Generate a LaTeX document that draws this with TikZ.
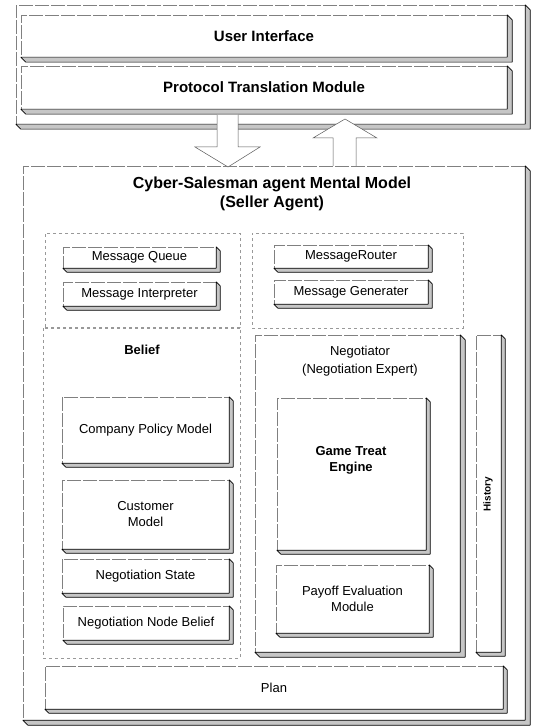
\documentclass[tikz,border=0pt]{standalone}
\usepackage{fontspec}
\setmainfont{Liberation Sans}
\usepackage{tikz}
\usetikzlibrary{calc}
\newcommand{\boxshadow}[2][4]{%
  \filldraw[fill=gray!45, draw=black, line width=0.6pt, line join=round]
    (#2.north east) -- ++(#1,#1) -- ($(#2.south east)+(#1,#1)$)
    -- ($(#2.south west)+(#1,#1)$) -- (#2.south west) -- (#2.south east) -- cycle;}
\tikzset{
  face/.style={draw=black!50, dash pattern=on 14pt off 2pt, fill=white, inner sep=0pt,
    align=center, font=\fontsize{13}{16}\selectfont},
  frame/.style={draw=black!40, dash pattern=on 3pt off 3pt, inner sep=0pt},
  blockarrow/.style={draw=black!65, fill=white, line width=0.5pt}
}
\begin{document}
\begin{tikzpicture}[x=1pt,y=-1pt]
\useasboundingbox (0,0) rectangle (541,727);
% interface part
\node[face, minimum width=509, minimum height=119] (TF) at (270.5,64.5) {};
\boxshadow[5]{TF}
\node[face, minimum width=486, minimum height=42, font=\fontsize{15}{18}\selectfont\bfseries] (UI) at (264,36) {User Interface};
\boxshadow[5]{UI}
\node[face, minimum width=486, minimum height=43, font=\fontsize{15}{18}\selectfont\bfseries] (PT) at (264,87.5) {Protocol Translation Module};
\boxshadow[5]{PT}
% mental model
\node[face, minimum width=502, minimum height=554] (MM) at (274,443) {};
\boxshadow[5]{MM}
\node[font=\fontsize{16}{19}\selectfont\bfseries, align=center] (MT) at (272,194) {Cyber-Salesman agent Mental Model\\(Seller Agent)};
\draw[blockarrow] (217,115) -- (217,147) -- (195,147) -- (228,167) -- (260,147) -- (238,147) -- (238,115);
\draw[blockarrow] (333,166) -- (333,138) -- (313,138) -- (345,119) -- (377,138) -- (356,138) -- (356,166);
% messages
\node[frame, minimum width=195, minimum height=95] (LG) at (142.5,280.5) {};
\node[frame, minimum width=211, minimum height=95] (RG) at (357.5,280.5) {};
\node[face, minimum width=153, minimum height=21] (MQ) at (139.5,257.5) {Message Queue};
\boxshadow{MQ}
\node[face, minimum width=153, minimum height=24] (MI) at (139.5,294) {Message Interpreter};
\boxshadow{MI}
\node[face, minimum width=154, minimum height=23] (MR) at (351,256.5) {MessageRouter};
\boxshadow{MR}
\node[face, minimum width=154, minimum height=24] (MG) at (351,292) {Message Generater};
\boxshadow{MG}
% belief
\node[frame, minimum width=197, minimum height=331] (BF) at (141.5,492.5) {};
\node[font=\fontsize{13}{16}\selectfont\bfseries] (BL) at (142,350) {Belief};
\node[face, minimum width=167, minimum height=66] (CP) at (145.5,430) {Company Policy Model};
\boxshadow{CP}
\node[face, minimum width=167, minimum height=69] (CM) at (145.5,514.5) {Customer\\Model};
\boxshadow{CM}
\node[face, minimum width=167, minimum height=34] (NS) at (145.5,576) {Negotiation State};
\boxshadow{NS}
\node[face, minimum width=166, minimum height=34] (NB) at (146,623) {Negotiation Node Belief};
\boxshadow{NB}
% negotiator
\node[face, minimum width=205, minimum height=317] (NG) at (357.5,493.5) {};
\boxshadow[5]{NG}
\node[font=\fontsize{13}{18}\selectfont, align=center] (NL) at (360,361) {Negotiator\\(Negotiation Expert)};
\node[face, minimum width=149, minimum height=152] (GE) at (351.5,474) {};
\boxshadow{GE}
\node[font=\fontsize{13}{16}\selectfont\bfseries, align=center] (GL) at (351,460) {Game Treat\\Engine};
\node[face, minimum width=153, minimum height=68] (PE) at (352.5,599) {Payoff Evaluation\\Module};
\boxshadow{PE}
% history and plan
\node[face, minimum width=25, minimum height=317] (HI) at (488.5,493.5) {};
\boxshadow{HI}
\node[font=\fontsize{10}{12}\selectfont\bfseries, rotate=90] (HL) at (488,494) {History};
\node[face, minimum width=458, minimum height=43] (PL) at (274,687.5) {Plan};
\boxshadow{PL}
\end{tikzpicture}
\end{document}
